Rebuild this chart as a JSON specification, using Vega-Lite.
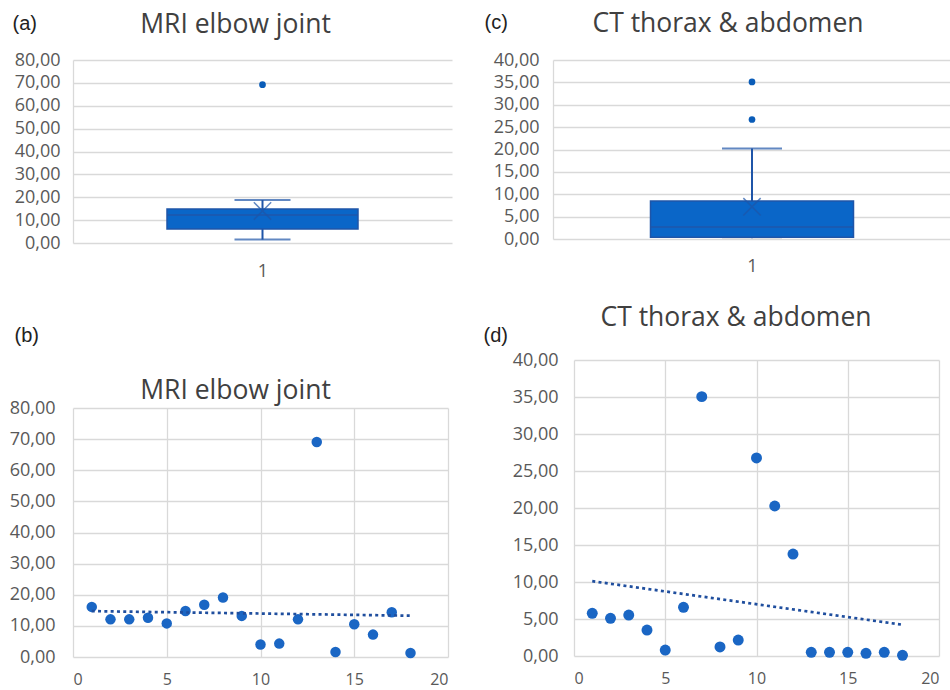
{
  "$schema": "https://vega.github.io/schema/vega-lite/v6.json",
  "padding": {"left": 9, "top": 10, "right": 0, "bottom": 3},
  "background": "white",
  "datasets": {
    "mri": [
      {"x": 1, "y": 16.1}, {"x": 2, "y": 12.1}, {"x": 3, "y": 12.1}, {"x": 4, "y": 12.6},
      {"x": 5, "y": 10.8}, {"x": 6, "y": 14.8}, {"x": 7, "y": 16.8}, {"x": 8, "y": 19.1},
      {"x": 9, "y": 13.2}, {"x": 10, "y": 4.0}, {"x": 11, "y": 4.3}, {"x": 12, "y": 12.1},
      {"x": 13, "y": 69.1}, {"x": 14, "y": 1.6}, {"x": 15, "y": 10.5}, {"x": 16, "y": 7.2},
      {"x": 17, "y": 14.4}, {"x": 18, "y": 1.3}
    ],
    "ct": [
      {"x": 1, "y": 5.77}, {"x": 2, "y": 5.09}, {"x": 3, "y": 5.54}, {"x": 4, "y": 3.51},
      {"x": 5, "y": 0.81}, {"x": 6, "y": 6.58}, {"x": 7, "y": 35.05}, {"x": 8, "y": 1.22},
      {"x": 9, "y": 2.16}, {"x": 10, "y": 26.76}, {"x": 11, "y": 20.27}, {"x": 12, "y": 13.78},
      {"x": 13, "y": 0.5}, {"x": 14, "y": 0.5}, {"x": 15, "y": 0.5}, {"x": 16, "y": 0.36},
      {"x": 17, "y": 0.5}, {"x": 18, "y": 0.1}
    ],
    "mriBox": [{"cat": "1", "lower": 1.5, "q1": 6.1, "median": 12.2, "q3": 14.9, "upper": 18.8, "mean": 14.0}],
    "mriOut": [{"cat": "1", "value": 69.2}],
    "ctBox": [{"cat": "1", "lower": 0.1, "q1": 0.4, "median": 2.7, "q3": 8.5, "upper": 20.25, "mean": 7.2}],
    "ctOut": [{"cat": "1", "value": 35.1}, {"cat": "1", "value": 26.7}]
  },
  "config": {
    "locale": {"number": {"decimal": ",", "thousands": ".", "grouping": [3], "currency": ["", " €"]}},
    "font": "Open Sans",
    "view": {"stroke": null},
    "axis": {
      "labelFont": "Open Sans", "labelFontSize": 18, "labelColor": "#595959", "labelOverlap": false,
      "gridColor": "#d9d9d9", "gridWidth": 1.3, "ticks": false, "domain": false,
      "titleFont": "Liberation Sans", "titleFontSize": 20, "titleColor": "#222222",
      "titleFontWeight": "normal", "titleAngle": 0, "titleAlign": "left", "titleBaseline": "alphabetic"
    },
    "title": {"font": "Open Sans", "fontSize": 26.5, "fontWeight": "normal", "color": "#404040", "baseline": "alphabetic"}
  },
  "spacing": 31,
  "hconcat": [
    {
      "spacing": 45,
      "vconcat": [
        {
          "width": 379, "height": 183,
          "title": {"text": "MRI elbow joint", "offset": -25, "dx": -27},
          "layer": [
            {
              "data": {"name": "mriBox"},
              "mark": {"type": "rule", "color": "#1f55a8", "strokeWidth": 2},
              "encoding": {
                "x": {"field": "cat", "type": "nominal", "scale": {"type": "point", "padding": 0.5},
                      "axis": {"title": null, "labelAngle": 0, "labelPadding": 19, "grid": false}},
                "y": {"field": "lower", "type": "quantitative", "scale": {"domain": [0, 80]},
                      "axis": {"title": "(a)", "titleX": -61, "titleY": -31, "values": [0,10,20,30,40,50,60,70,80], "format": ".2f", "labelPadding": 13, "domain": true, "domainColor": "#d9d9d9", "domainWidth": 1.3}},
                "y2": {"field": "upper"}
              }
            },
            {
              "data": {"name": "mriBox"},
              "mark": {"type": "tick", "color": "#1f55a8", "thickness": 2, "size": 56},
              "encoding": {
                "x": {"field": "cat", "type": "nominal", "axis": {"title": null, "labelAngle": 0, "labelPadding": 19, "grid": false}},
                "y": {"field": "lower", "type": "quantitative", "axis": {"title": "(a)", "titleX": -61, "titleY": -31, "values": [0,10,20,30,40,50,60,70,80], "format": ".2f", "labelPadding": 13, "domain": true, "domainColor": "#d9d9d9", "domainWidth": 1.3}}
              }
            },
            {
              "data": {"name": "mriBox"},
              "mark": {"type": "tick", "color": "#1f55a8", "thickness": 2, "size": 56},
              "encoding": {
                "x": {"field": "cat", "type": "nominal", "axis": {"title": null, "labelAngle": 0, "labelPadding": 19, "grid": false}},
                "y": {"field": "upper", "type": "quantitative", "axis": {"title": "(a)", "titleX": -61, "titleY": -31, "values": [0,10,20,30,40,50,60,70,80], "format": ".2f", "labelPadding": 13, "domain": true, "domainColor": "#d9d9d9", "domainWidth": 1.3}}
              }
            },
            {
              "data": {"name": "mriBox"},
              "mark": {"type": "bar", "color": "#0a66c8", "stroke": "#1f55a8", "strokeWidth": 1.5, "width": 191},
              "encoding": {
                "x": {"field": "cat", "type": "nominal", "axis": {"title": null, "labelAngle": 0, "labelPadding": 19, "grid": false}},
                "y": {"field": "q1", "type": "quantitative", "axis": {"title": "(a)", "titleX": -61, "titleY": -31, "values": [0,10,20,30,40,50,60,70,80], "format": ".2f", "labelPadding": 13, "domain": true, "domainColor": "#d9d9d9", "domainWidth": 1.3}},
                "y2": {"field": "q3"}
              }
            },
            {
              "data": {"name": "mriBox"},
              "mark": {"type": "tick", "color": "#1f55a8", "thickness": 2, "size": 191},
              "encoding": {
                "x": {"field": "cat", "type": "nominal", "axis": {"title": null, "labelAngle": 0, "labelPadding": 19, "grid": false}},
                "y": {"field": "median", "type": "quantitative", "axis": {"title": "(a)", "titleX": -61, "titleY": -31, "values": [0,10,20,30,40,50,60,70,80], "format": ".2f", "labelPadding": 13, "domain": true, "domainColor": "#d9d9d9", "domainWidth": 1.3}}
              }
            },
            {
              "data": {"name": "mriBox"},
              "mark": {"type": "point", "shape": "M-1,-1L1,1M-1,1L1,-1", "size": 300, "stroke": "#1f55a8", "strokeWidth": 1.5, "filled": false},
              "encoding": {
                "x": {"field": "cat", "type": "nominal", "axis": {"title": null, "labelAngle": 0, "labelPadding": 19, "grid": false}},
                "y": {"field": "mean", "type": "quantitative", "axis": {"title": "(a)", "titleX": -61, "titleY": -31, "values": [0,10,20,30,40,50,60,70,80], "format": ".2f", "labelPadding": 13, "domain": true, "domainColor": "#d9d9d9", "domainWidth": 1.3}}
              }
            },
            {
              "data": {"name": "mriOut"},
              "mark": {"type": "circle", "color": "#0a5cb8", "size": 45, "opacity": 1},
              "encoding": {
                "x": {"field": "cat", "type": "nominal", "axis": {"title": null, "labelAngle": 0, "labelPadding": 19, "grid": false}},
                "y": {"field": "value", "type": "quantitative", "axis": {"title": "(a)", "titleX": -61, "titleY": -31, "values": [0,10,20,30,40,50,60,70,80], "format": ".2f", "labelPadding": 13, "domain": true, "domainColor": "#d9d9d9", "domainWidth": 1.3}}
              }
            }
          ]
        },
        {
          "width": 375, "height": 249,
          "title": {"text": "MRI elbow joint", "offset": -79, "dx": -25},
          "encoding": {
            "x": {"field": "x", "type": "quantitative", "scale": {"domain": [0, 20]},
                  "axis": {"title": null, "values": [0,5,10,15,20], "format": "d", "labelPadding": 14, "labelFontSize": 16}},
            "y": {"field": "y", "type": "quantitative", "scale": {"domain": [0, 80]},
                  "axis": {"title": "(b)", "titleX": -59, "titleY": -67, "values": [0,10,20,30,40,50,60,70,80], "format": ".2f", "labelPadding": 18}}
          },
          "layer": [
            {
              "data": {"name": "mri"},
              "mark": {"type": "circle", "color": "#1a66c4", "size": 110, "opacity": 1}
            },
            {
              "data": {"name": "mri"},
              "transform": [{"regression": "y", "on": "x"}],
              "mark": {"type": "line", "color": "#1f4e9e", "strokeWidth": 2.7, "strokeDash": [3, 3.3]}
            }
          ]
        }
      ]
    },
    {
      "spacing": 29,
      "vconcat": [
        {
          "width": 468, "height": 179,
          "title": {"text": "CT thorax & abdomen", "offset": -25, "dx": 11},
          "layer": [
            {
              "data": {"name": "ctBox"},
              "mark": {"type": "rule", "color": "#1f55a8", "strokeWidth": 2},
              "encoding": {
                "x": {"field": "cat", "type": "nominal", "scale": {"type": "point", "padding": 0.5, "range": [70, 468]},
                      "axis": {"title": null, "labelAngle": 0, "labelPadding": 18, "grid": false}},
                "y": {"field": "lower", "type": "quantitative", "scale": {"domain": [0, 40]},
                      "axis": {"title": "(c)", "titleX": -69, "titleY": -32, "offset": -70, "values": [0,5,10,15,20,25,30,35,40], "format": ".2f", "labelPadding": 14, "domain": true, "domainColor": "#d9d9d9", "domainWidth": 1.3}},
                "y2": {"field": "upper"}
              }
            },
            {
              "data": {"name": "ctBox"},
              "mark": {"type": "tick", "color": "#d9d9d9", "thickness": 2, "size": 60},
              "encoding": {
                "x": {"field": "cat", "type": "nominal", "axis": {"title": null, "labelAngle": 0, "labelPadding": 18, "grid": false}},
                "y": {"field": "lower", "type": "quantitative", "axis": {"title": "(c)", "titleX": -69, "titleY": -32, "offset": -70, "values": [0,5,10,15,20,25,30,35,40], "format": ".2f", "labelPadding": 14, "domain": true, "domainColor": "#d9d9d9", "domainWidth": 1.3}}
              }
            },
            {
              "data": {"name": "ctBox"},
              "mark": {"type": "tick", "color": "#1f55a8", "thickness": 2, "size": 60},
              "encoding": {
                "x": {"field": "cat", "type": "nominal", "axis": {"title": null, "labelAngle": 0, "labelPadding": 18, "grid": false}},
                "y": {"field": "upper", "type": "quantitative", "axis": {"title": "(c)", "titleX": -69, "titleY": -32, "offset": -70, "values": [0,5,10,15,20,25,30,35,40], "format": ".2f", "labelPadding": 14, "domain": true, "domainColor": "#d9d9d9", "domainWidth": 1.3}}
              }
            },
            {
              "data": {"name": "ctBox"},
              "mark": {"type": "bar", "color": "#0a66c8", "stroke": "#1f55a8", "strokeWidth": 1.5, "width": 203},
              "encoding": {
                "x": {"field": "cat", "type": "nominal", "axis": {"title": null, "labelAngle": 0, "labelPadding": 18, "grid": false}},
                "y": {"field": "q1", "type": "quantitative", "axis": {"title": "(c)", "titleX": -69, "titleY": -32, "offset": -70, "values": [0,5,10,15,20,25,30,35,40], "format": ".2f", "labelPadding": 14, "domain": true, "domainColor": "#d9d9d9", "domainWidth": 1.3}},
                "y2": {"field": "q3"}
              }
            },
            {
              "data": {"name": "ctBox"},
              "mark": {"type": "tick", "color": "#1f55a8", "thickness": 2, "size": 203},
              "encoding": {
                "x": {"field": "cat", "type": "nominal", "axis": {"title": null, "labelAngle": 0, "labelPadding": 18, "grid": false}},
                "y": {"field": "median", "type": "quantitative", "axis": {"title": "(c)", "titleX": -69, "titleY": -32, "offset": -70, "values": [0,5,10,15,20,25,30,35,40], "format": ".2f", "labelPadding": 14, "domain": true, "domainColor": "#d9d9d9", "domainWidth": 1.3}}
              }
            },
            {
              "data": {"name": "ctBox"},
              "mark": {"type": "point", "shape": "M-1,-1L1,1M-1,1L1,-1", "size": 300, "stroke": "#1f55a8", "strokeWidth": 1.5, "filled": false},
              "encoding": {
                "x": {"field": "cat", "type": "nominal", "axis": {"title": null, "labelAngle": 0, "labelPadding": 18, "grid": false}},
                "y": {"field": "mean", "type": "quantitative", "axis": {"title": "(c)", "titleX": -69, "titleY": -32, "offset": -70, "values": [0,5,10,15,20,25,30,35,40], "format": ".2f", "labelPadding": 14, "domain": true, "domainColor": "#d9d9d9", "domainWidth": 1.3}}
              }
            },
            {
              "data": {"name": "ctOut"},
              "mark": {"type": "circle", "color": "#0a5cb8", "size": 45, "opacity": 1},
              "encoding": {
                "x": {"field": "cat", "type": "nominal", "axis": {"title": null, "labelAngle": 0, "labelPadding": 18, "grid": false}},
                "y": {"field": "value", "type": "quantitative", "axis": {"title": "(c)", "titleX": -69, "titleY": -32, "offset": -70, "values": [0,5,10,15,20,25,30,35,40], "format": ".2f", "labelPadding": 14, "domain": true, "domainColor": "#d9d9d9", "domainWidth": 1.3}}
              }
            }
          ]
        },
        {
          "width": 456, "height": 296,
          "title": {"text": "CT thorax & abdomen", "offset": -6, "dx": 25},
          "encoding": {
            "x": {"field": "x", "type": "quantitative", "scale": {"domain": [0, 20], "range": [91, 456]},
                  "axis": {"title": null, "values": [0,5,10,15,20], "format": "d", "labelPadding": 14, "labelFontSize": 16}},
            "y": {"field": "y", "type": "quantitative", "scale": {"domain": [0, 40]},
                  "axis": {"title": "(d)", "titleX": -91, "titleY": -19, "offset": -91, "values": [0,5,10,15,20,25,30,35,40], "format": ".2f", "labelPadding": 16}}
          },
          "layer": [
            {
              "data": {"name": "ct"},
              "mark": {"type": "circle", "color": "#1a66c4", "size": 120, "opacity": 1}
            },
            {
              "data": {"name": "ct"},
              "transform": [{"regression": "y", "on": "x"}],
              "mark": {"type": "line", "color": "#1f4e9e", "strokeWidth": 2.7, "strokeDash": [3, 3.3]}
            }
          ]
        }
      ]
    }
  ]
}
